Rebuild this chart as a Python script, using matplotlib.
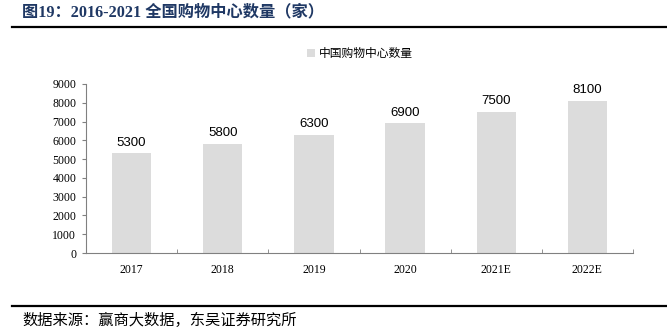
import matplotlib
matplotlib.use("Agg")
import matplotlib.pyplot as plt
from matplotlib.lines import Line2D
from matplotlib.patches import Patch

categories = ["2017", "2018", "2019", "2020", "2021E", "2022E"]
values = [5300, 5800, 6300, 6900, 7500, 8100]
series_name = "中国购物中心数量"
title = "图19：2016-2021 全国购物中心数量（家）"
source = "数据来源：赢商大数据，东吴证券研究所"
yticks = [0, 1000, 2000, 3000, 4000, 5000, 6000, 7000, 8000, 9000]

serif = ["Liberation Serif", "Noto Sans CJK SC"]
cjk = ["Noto Sans CJK SC", "DejaVu Sans"]

fig = plt.figure(figsize=(6.67, 3.36), dpi=100)
ax = fig.add_axes([0.129, 0.247, 0.82, 0.503])

x = list(range(len(categories)))
bar_color = "#DCDCDC"
ax.bar(x, values, width=0.43, color=bar_color, zorder=2)
for xi, v in zip(x, values):
    ax.text(xi, v + 250, f"{v}", ha="center", va="bottom", fontsize=9.5,
            family="Liberation Sans", color="black")

ax.set_xlim(-0.5, len(categories) - 0.5)
ax.set_ylim(0, 9000)
ax.set_yticks(yticks)
ax.set_yticklabels([str(t) for t in yticks], family="Liberation Serif", fontsize=8.5)
ax.set_xticks(x)
ax.set_xticklabels(categories, family="Liberation Serif", fontsize=8.5)
ax.tick_params(axis="x", length=0, pad=8)
ax.set_xticks([i + 0.5 for i in x], minor=True)
ax.tick_params(axis="x", which="minor", length=3, direction="in", color="#808080")
ax.tick_params(axis="y", length=3, direction="out", color="#808080", pad=4)
for s in ["top", "right"]:
    ax.spines[s].set_visible(False)
for s in ["left", "bottom"]:
    ax.spines[s].set_color("#808080")
    ax.spines[s].set_linewidth(0.8)

ax.legend(handles=[Patch(facecolor=bar_color, edgecolor="none", label=series_name)],
          loc="center", bbox_to_anchor=(0.5, 1.178), frameon=False,
          prop={"family": cjk, "size": 8.5}, handlelength=0.7, handleheight=0.7,
          handletextpad=0.3)

fig.text(0.033, 0.964, title, family=serif, fontsize=11.7, fontweight="bold",
         color="#1F3864", va="center", ha="left")
fig.add_artist(Line2D([0.018, 1.0], [0.919, 0.919], color="black", linewidth=1.6,
                      transform=fig.transFigure))
fig.add_artist(Line2D([0.018, 1.0], [0.089, 0.089], color="black", linewidth=1.6,
                      transform=fig.transFigure))
fig.text(0.033, 0.045, source, family=cjk, fontsize=11, color="black", va="center", ha="left")

fig.savefig("out.png", dpi=100)
